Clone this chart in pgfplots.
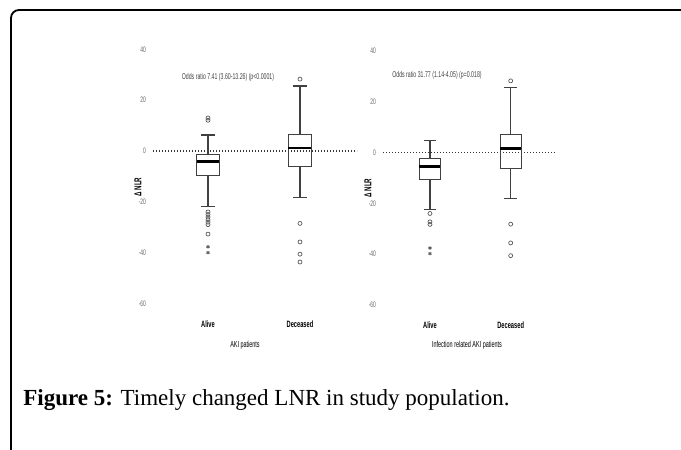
\documentclass[border=0pt]{standalone}
\usepackage{fontspec}
\setmainfont{Liberation Serif}
\newfontfamily\nar[FakeStretch=0.62]{Liberation Sans}
\usepackage{pgfplots}
\pgfplotsset{compat=1.18}
\usepgfplotslibrary{statistics}

\pgfplotsset{
  panel/.style={
    scale only axis, clip=false,
    height=137.2pt,
    axis line style={draw=none},
    major tick length=0pt,
    ymin=-64, ymax=44,
    ytick={-60,-40,-20,0,20,40},
    yticklabels={-60,-40,-20,0,20,40},
    xtick={1,2},
    xticklabels={Alive,Deceased},
    yticklabel style={font=\nar\fontsize{4}{4.5}\selectfont, text=black!60},
    xticklabel style={font=\nar\bfseries\fontsize{4.6}{5}\selectfont},
    boxplot/draw direction=y,
    boxplot/every box/.style={draw=black!75, line width=0.45pt},
    boxplot/every whisker/.style={draw=black!75, line width=0.6pt},
    boxplot/every median/.style={draw=black, line width=1.3pt},
  },
  outl/.style={only marks, mark=o, mark size=1.0pt, black!65, mark options={line width=0.35pt}},
  star/.style={only marks, mark=asterisk, mark size=0.9pt, black!65},
  zero/.style={black!80, line width=0.7pt, dash pattern=on 0.6pt off 0.9pt},
}

\begin{document}
\begin{tikzpicture}[x=0.5pt,y=-0.5pt]
\path[use as bounding box] (0,0) rectangle (681,450);
\draw[line width=0.9pt, rounded corners=4pt] (682,10) -- (11,10) -- (11,451);

\coordinate (L) at (153,313.6);
\coordinate (R) at (383,315.1);

% left panel: all AKI patients
\begin{axis}[panel, at={(L)}, anchor=south west, width=102pt, xmin=0.402, xmax=2.62,
  boxplot/box extend=0.25, boxplot/whisker extend=0.15]
\addplot[zero] coordinates {(0.402,0) (2.62,0)};
\addplot[black, boxplot prepared={draw position=1, median=-4.1, upper quartile=-1.4,
  lower quartile=-9.7, upper whisker=6.3, lower whisker=-22}] coordinates {};
\addplot[black, boxplot prepared={draw position=2, median=1.2, upper quartile=6.6,
  lower quartile=-6.2, upper whisker=25.6, lower whisker=-18.3}] coordinates {};
\addplot[outl] coordinates {(1,12.1) (1,13.0) (1,-24) (1,-25) (1,-26) (1,-27) (1,-28) (1,-29) (1,-32.7)};
\addplot[star] coordinates {(1,-37.7) (1,-40)};
\addplot[outl] coordinates {(2,28.3) (2,-28.5) (2,-35.8) (2,-40.6) (2,-43.7)};
\end{axis}

% right panel: infection related AKI patients
\begin{axis}[panel, at={(R)}, anchor=south west, width=87pt, xmin=0.418, xmax=2.574,
  boxplot/box extend=0.26, boxplot/whisker extend=0.16]
\addplot[zero] coordinates {(0.418,0) (2.574,0)};
\addplot[black, boxplot prepared={draw position=1, median=-5.6, upper quartile=-2.3,
  lower quartile=-10.5, upper whisker=4.6, lower whisker=-22.3}] coordinates {};
\addplot[black, boxplot prepared={draw position=2, median=1.5, upper quartile=7.1,
  lower quartile=-6.2, upper whisker=25.6, lower whisker=-18.2}] coordinates {};
\addplot[outl] coordinates {(1,-24) (1,-27.3) (1,-28.3)};
\addplot[star] coordinates {(1,-37.6) (1,-39.8)};
\addplot[outl] coordinates {(2,28.2) (2,-28.2) (2,-35.6) (2,-40.6)};
\end{axis}

\node[font=\nar\fontsize{4.2}{5}\selectfont, text=black!75] at (228,77.7) {Odds ratio 7.41 (3.60-13.26) (p<0.0001)};
\node[font=\nar\fontsize{4.2}{5}\selectfont, text=black!75] at (437,75) {Odds ratio 31.77 (1.14-4.05) (p=0.018)};
\node[font=\nar\bfseries\fontsize{5}{6}\selectfont, rotate=90] at (138,187) {Δ NLR};
\node[font=\nar\bfseries\fontsize{5}{6}\selectfont, rotate=90] at (368,188) {Δ NLR};
\node[font=\nar\fontsize{4.4}{5}\selectfont] at (245,345) {AKI patients};
\node[font=\nar\fontsize{4.4}{5}\selectfont] at (467,345) {Infection related AKI patients};

\node[anchor=base west, inner sep=0pt, font=\fontsize{11.5}{13}\selectfont] at (23,405) {\textbf{Figure 5:} Timely changed LNR in study population.};
\end{tikzpicture}
\end{document}
